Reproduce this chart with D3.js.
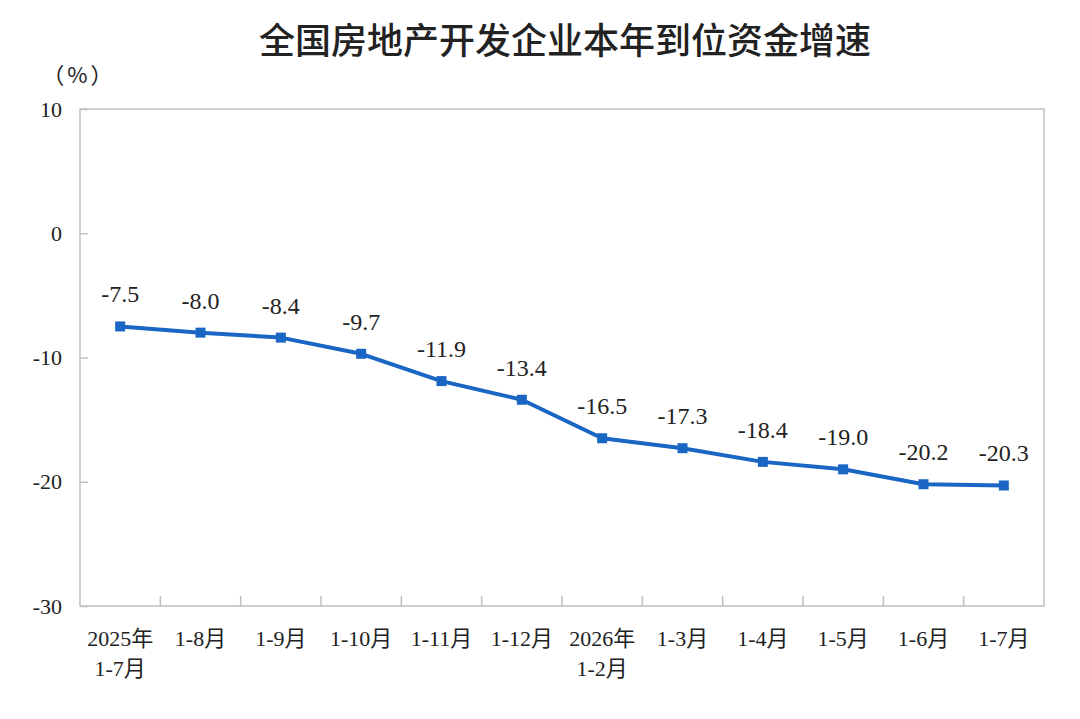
<!DOCTYPE html>
<html>
<head>
<meta charset="utf-8">
<script src="https://cdn.jsdelivr.net/npm/d3@7"></script>
<style>
  body { margin: 0; background: #fff; }
  svg text { fill: #222; }
</style>
</head>
<body>
<div id="container"></div>
<script>
// data
const categories = ['2025年\n1-7月', '1-8月', '1-9月', '1-10月', '1-11月', '1-12月',
  '2026年\n1-2月', '1-3月', '1-4月', '1-5月', '1-6月', '1-7月'];
const values = [-7.5, -8.0, -8.4, -9.7, -11.9, -13.4, -16.5, -17.3, -18.4, -19.0, -20.2, -20.3];
const yTicks = [10, 0, -10, -20, -30];
const title = '全国房地产开发企业本年到位资金增速';
const unit = '（%）';

const W = 1080, H = 719;
const margin = { top: 109, right: 36, bottom: 113, left: 80 };
const width = W - margin.left - margin.right;
const height = H - margin.top - margin.bottom;
const serif = '"Liberation Serif", "Noto Sans CJK SC", serif';
const axisColor = '#c0c0c0';
const lineColor = '#1a66c4';

const root = d3.select('#container')
  .append('svg')
  .attr('width', W)
  .attr('height', H);

// title
root.append('text')
  .attr('x', 565)
  .attr('y', 54)
  .attr('text-anchor', 'middle')
  .attr('font-family', '"Noto Sans CJK SC", sans-serif')
  .attr('font-weight', 500)
  .style('font-size', '36px')
  .text(title);

// unit
root.append('text')
  .attr('x', 79)
  .attr('y', 83)
  .attr('text-anchor', 'middle')
  .attr('font-family', '"Noto Sans CJK SC", sans-serif')
  .style('font-size', '22px')
  .style('letter-spacing', '3px')
  .text(unit);

const svg = root.append('g')
  .attr('transform', `translate(${margin.left},${margin.top})`);

const xScale = d3.scaleBand()
  .domain(categories)
  .range([0, width]);
const yScale = d3.scaleLinear()
  .domain([-30, 10])
  .range([height, 0]);

// frame
svg.append('rect')
  .attr('width', width)
  .attr('height', height)
  .attr('fill', 'none')
  .attr('stroke', axisColor)
  .attr('stroke-width', 1.5);

// y axis: inward ticks
const yAxis = svg.append('g')
  .call(d3.axisLeft(yScale).tickValues(yTicks).tickFormat(d => String(d)).tickSize(-8).tickPadding(18));
yAxis.select('.domain').remove();
yAxis.selectAll('line').attr('stroke', axisColor).attr('stroke-width', 1.5);
yAxis.selectAll('text')
  .attr('font-family', serif)
  .style('font-size', '22px')
  .attr('fill', '#222');

// x axis: inward ticks at category boundaries
const bounds = categories.slice(1).map(c => xScale(c));
svg.append('g')
  .selectAll('line')
  .data(bounds)
  .join('line')
  .attr('x1', d => d)
  .attr('x2', d => d)
  .attr('y1', height)
  .attr('y2', height - 10)
  .attr('stroke', axisColor)
  .attr('stroke-width', 1.5);

const xLabels = svg.append('g')
  .selectAll('text')
  .data(categories)
  .join('text')
  .attr('x', d => xScale(d) + xScale.bandwidth() / 2)
  .attr('y', height + 40)
  .attr('text-anchor', 'middle')
  .attr('font-family', serif)
  .style('font-size', '22px');
xLabels.each(function(d) {
  const t = d3.select(this);
  d.split('\n').forEach((s, i) => {
    t.append('tspan')
      .attr('x', xScale(d) + xScale.bandwidth() / 2)
      .attr('dy', i === 0 ? 0 : 30)
      .text(s);
  });
});

// line
const pts = categories.map((c, i) => ({ c, v: values[i] }));
const line = d3.line()
  .x(d => xScale(d.c) + xScale.bandwidth() / 2)
  .y(d => yScale(d.v));

svg.append('path')
  .datum(pts)
  .attr('fill', 'none')
  .attr('stroke', lineColor)
  .attr('stroke-width', 4)
  .attr('stroke-linejoin', 'round')
  .attr('d', line);

svg.append('g')
  .selectAll('rect')
  .data(pts)
  .join('rect')
  .attr('x', d => xScale(d.c) + xScale.bandwidth() / 2 - 5)
  .attr('y', d => yScale(d.v) - 5)
  .attr('width', 10)
  .attr('height', 10)
  .attr('fill', lineColor);

// value labels
svg.append('g')
  .selectAll('text')
  .data(pts)
  .join('text')
  .attr('x', d => xScale(d.c) + xScale.bandwidth() / 2)
  .attr('y', d => yScale(d.v) - 24)
  .attr('text-anchor', 'middle')
  .attr('font-family', serif)
  .style('font-size', '24px')
  .text(d => d.v.toFixed(1));
</script>
</body>
</html>
